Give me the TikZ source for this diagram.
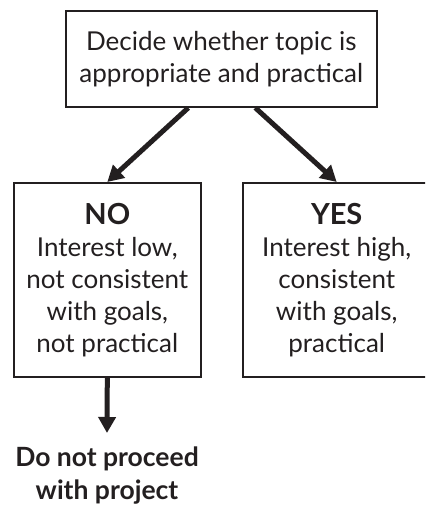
\documentclass[tikz,border=0pt]{standalone}
\usepackage{fontspec}
\setmainfont{Lato}
\usetikzlibrary{arrows.meta}
\definecolor{ink}{HTML}{231F20}
\newcommand{\headword}[1]{{\bfseries\fontsize{29}{32}\selectfont #1}}
\tikzset{
    box/.style={draw=ink, line width=2pt, inner sep=0pt, align=center, text=ink,
        font=\fontsize{26}{32}\selectfont},
    flow/.style={draw=ink, line width=5pt, -{Triangle[length=16pt, width=17pt]}}
}
\begin{document}
\begin{tikzpicture}[scale=1, x=1pt, y=1pt]
	    \clip (0, 0) rectangle (425, 510);
	    \node (top) [box, minimum width=311pt, minimum height=96pt] at (221.3, 451.2)
	        {Decide whether topic is\\appropriate and practical};
	    \node (no) [box, minimum width=187pt, minimum height=194pt] at (107.3, 230)
	        {\headword{NO}\\Interest low,\\not consistent\\with goals,\\not practical};
	    \node (yes) [box, minimum width=187pt, minimum height=194pt] at (336.7, 230)
	        {\headword{YES}\\Interest high,\\consistent\\with goals,\\practical};
	    \node (stop) [align=center, text=ink, inner xsep=0pt, inner ysep=14pt, anchor=north,
	        font=\fontsize{26.5}{33}\selectfont\bfseries] at (107, 77)
	        {Do not proceed\\with project};
	    \draw [flow] ([xshift=-33pt]top.south) -- (no.north);
	    \draw [flow] ([xshift=34pt]top.south) -- (yes.north);
	    \draw [flow] (no.south) -- (stop.north);
    \end{tikzpicture}
\end{document}
